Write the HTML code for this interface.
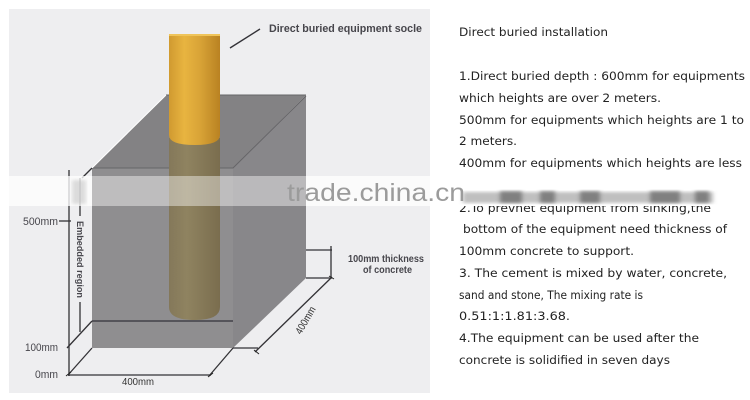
<!DOCTYPE html>
<html>
<head>
<meta charset="utf-8">
<style>
html,body{margin:0;padding:0;background:#fff;width:750px;height:400px;overflow:hidden}
svg{display:block;filter:blur(.25px)}
</style>
</head>
<body>
<svg width="750" height="400" viewBox="0 0 750 400" xmlns="http://www.w3.org/2000/svg">
<defs>
<linearGradient id="g" x1="0" x2="1" y1="0" y2="0">
<stop offset="0" stop-color="#d09a30"/><stop offset=".3" stop-color="#e8b440"/><stop offset=".6" stop-color="#d9a437"/><stop offset="1" stop-color="#b98222"/>
</linearGradient>
<linearGradient id="o" x1="0" x2="1" y1="0" y2="0">
<stop offset="0" stop-color="#84785a"/><stop offset=".35" stop-color="#8f8360"/><stop offset="1" stop-color="#7a6d4e"/>
</linearGradient>
<filter id="b"><feGaussianBlur stdDeviation="2 1.5"/></filter>
</defs>
<rect x="9" y="9" width="421" height="384" fill="#eeeef0"/>
<!-- block -->
<polygon points="166,95 306,95 233,168 92,168" fill="#838284"/>
<polygon points="92,168 233,168 233,348 92,348" fill="#8f8e90"/>
<polygon points="233,168 306,95 306,278 233,348" fill="#88878a"/>
<path d="M92,168H233L306,96M166,95H306" fill="none" stroke="#666568" stroke-width="1"/>
<path d="M92,168L166,95" stroke="#fff" stroke-width="1" fill="none"/>
<!-- column -->
<path d="M169,138H220V307Q220,320 195,320Q169,320 169,307Z" fill="url(#o)"/>
<path d="M169,35H220V135Q220,145 195,145Q169,145 169,135Z" fill="url(#g)"/>
<rect x="169" y="34" width="51" height="2" fill="#efc45a"/>
<!-- base line -->
<path d="M92,321H233" stroke="#55545a" stroke-width="2" fill="none"/>
<!-- leader -->
<path d="M230,48L260,29" stroke="#333238" stroke-width="1.4" fill="none"/>
<!-- dimension lines -->
<g fill="none" stroke="#333236" stroke-width="1.3">
<path d="M69,170V376"/>
<path d="M80,178V216M80,302V332"/>
<path d="M59,221H71"/>
<path d="M92,168L82,178"/>
<path d="M92,321L67,348"/>
<path d="M92,348L68,375"/>
<path d="M68,375H211"/>
<path d="M233,348L209,376"/>
<path d="M233,348H258"/>
<path d="M255,352L332,277"/>
<path d="M306,278H332M306,250H332"/>
<path d="M331,246V277"/>
</g>
<path d="M66,376L71,372M208,377L213,373M329,276L334,279M254,350L259,354" stroke="#222" stroke-width="1" fill="none"/>
<!-- diagram labels -->
<g font-family="'Liberation Sans',sans-serif" fill="#47464c">
<text x="269" y="32" font-size="11" font-weight="bold" textLength="153" lengthAdjust="spacingAndGlyphs">Direct buried equipment socle</text>
<text x="23" y="225" font-size="11" textLength="35" lengthAdjust="spacingAndGlyphs">500mm</text>
<text x="25" y="351" font-size="11" textLength="33" lengthAdjust="spacingAndGlyphs">100mm</text>
<text x="35" y="378" font-size="11" textLength="23" lengthAdjust="spacingAndGlyphs">0mm</text>
<text x="122" y="385" font-size="10" fill="#333" textLength="32" lengthAdjust="spacingAndGlyphs">400mm</text>
<text x="348" y="262" font-size="10" font-weight="bold" textLength="76" lengthAdjust="spacingAndGlyphs">100mm thickness</text>
<text x="363" y="273" font-size="10" font-weight="bold" textLength="49" lengthAdjust="spacingAndGlyphs">of concrete</text>
<text transform="translate(77,221) rotate(90)" font-size="9.5" font-weight="bold" textLength="77" lengthAdjust="spacingAndGlyphs">Embedded region</text>
<text transform="translate(301,335) rotate(-60)" font-size="10.5" fill="#333" textLength="30" lengthAdjust="spacingAndGlyphs">400mm</text>
</g>
<!-- right text -->
<g font-family="'DejaVu Sans','Liberation Sans',sans-serif" font-size="11.6" fill="#222">
<text x="459" y="36" textLength="149" lengthAdjust="spacingAndGlyphs">Direct buried installation</text>
<text x="459" y="80" textLength="286" lengthAdjust="spacingAndGlyphs">1.Direct buried depth : 600mm for equipments</text>
<text x="459" y="102" textLength="202" lengthAdjust="spacingAndGlyphs">which heights are over 2 meters.</text>
<text x="459" y="124" textLength="285" lengthAdjust="spacingAndGlyphs">500mm for equipments which heights are 1 to</text>
<text x="459" y="145" textLength="58" lengthAdjust="spacingAndGlyphs">2 meters.</text>
<text x="459" y="167" textLength="283" lengthAdjust="spacingAndGlyphs">400mm for equipments which heights are less</text>
<text x="459" y="212" textLength="252" lengthAdjust="spacingAndGlyphs">2.To prevnet equipment from sinking,the</text>
<text x="463" y="233" textLength="264" lengthAdjust="spacingAndGlyphs">bottom of the equipment need thickness of</text>
<text x="459" y="255" textLength="175" lengthAdjust="spacingAndGlyphs">100mm concrete to support.</text>
<text x="459" y="277" textLength="268" lengthAdjust="spacingAndGlyphs">3. The cement is mixed by water, concrete,</text>
<text x="459" y="299" textLength="184" lengthAdjust="spacingAndGlyphs" font-size="11.6">sand and stone, The mixing rate is</text>
<text x="459" y="320" textLength="111" lengthAdjust="spacingAndGlyphs">0.51:1:1.81:3.68.</text>
<text x="459" y="342" textLength="240" lengthAdjust="spacingAndGlyphs">4.The equipment can be used after the</text>
<text x="459" y="364" textLength="211" lengthAdjust="spacingAndGlyphs">concrete is solidified in seven days</text>
</g>
<!-- watermark band -->
<rect x="0" y="176" width="750" height="30" fill="#fff" fill-opacity=".42"/>
<rect x="430" y="176" width="320" height="30" fill="#fff"/>
<rect x="0" y="176" width="92" height="30" fill="#fff" fill-opacity=".6"/>
<rect x="306" y="176" width="124" height="30" fill="#fff" fill-opacity=".6"/>
<rect x="463" y="192" width="250" height="11" fill="#8a8a8a" fill-opacity=".55" filter="url(#b)"/>
<g fill="#555" fill-opacity=".6" filter="url(#b)">
<rect x="500" y="191" width="22" height="12"/><rect x="540" y="191" width="15" height="12"/><rect x="580" y="191" width="20" height="12"/><rect x="650" y="191" width="30" height="12"/><rect x="695" y="191" width="14" height="12"/>
</g>
<text x="287" y="201" font-family="'Liberation Sans',sans-serif" font-size="25" fill="#9b9b9b" textLength="178" lengthAdjust="spacingAndGlyphs">trade.china.cn</text>
<rect x="72" y="180" width="14" height="24" fill="#bbb" fill-opacity=".5" filter="url(#b)"/>
</svg>
</body>
</html>
